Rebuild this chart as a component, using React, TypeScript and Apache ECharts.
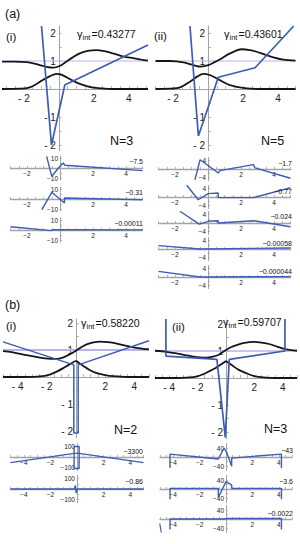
import React, { useEffect, useRef } from 'react';
import * as echarts from 'echarts';

type P = [number, number];

// ---------------- (a)(i) N=3 ----------------
const aiUpper: P[] = [[-3.25, 0.98], [-2.5, 0.98], [-1.85, 0.96], [-1.4, 0.91], [-1.09, 0.85], [-0.7, 0.79], [-0.33, 0.76], [0.05, 0.82], [0.44, 0.98], [0.8, 1.13], [1.2, 1.27], [1.65, 1.36], [2.15, 1.39], [2.6, 1.35], [3.1, 1.27], [3.7, 1.16], [4.25, 1.1], [4.7, 1.05], [5.1, 1.01]];
const aiLower: P[] = [[-3.25, 0], [-2.2, 0.01], [-1.66, 0.06], [-1.3, 0.17], [-1.0, 0.29], [-0.5, 0.46], [-0.13, 0.54], [0.1, 0.52], [0.44, 0.42], [0.8, 0.3], [1.2, 0.18], [1.6, 0.1], [1.96, 0.05], [2.5, 0.02], [3, 0], [5.1, 0]];
const aiBlue: P[] = [[-0.99, 2.25], [-0.42, -2.0], [0.34, 0.14], [5.1, 1.57]];
const aiSub1: P[] = [[-0.81, 11.6], [-0.5, -8.3], [-0.04, 1], [0.2, 5], [0.3, 2.7], [5, -2.6]];
const aiSub2: P[] = [[-1.1, -10.7], [-0.5, 6.7], [0.27, -4], [0.27, 1], [5, -0.7]];
const aiSub3: P[] = [[-3, 3.3], [-0.55, -0.6], [-0.45, 0.2], [5, 0.1]];
const aiCoef = ['\u22127.5', '\u22120.31', '\u22120.00011'];

// ---------------- (a)(ii) N=5 ----------------
const aiiUpper: P[] = [[-3, 1.0], [-2.2, 1.0], [-1.79, 0.99], [-1.4, 0.95], [-1.03, 0.89], [-0.7, 0.83], [-0.4, 0.8], [0.02, 0.85], [0.35, 0.95], [0.69, 1.06], [1.26, 1.27], [1.92, 1.42], [2.4, 1.39], [2.78, 1.33], [3.25, 1.23], [3.73, 1.13], [4.3, 1.05], [5, 1.01]];
const aiiLower: P[] = [[-3, 0], [-2.2, 0.01], [-1.6, 0.06], [-1.03, 0.26], [-0.6, 0.45], [-0.27, 0.54], [0.1, 0.5], [0.5, 0.38], [0.9, 0.24], [1.26, 0.14], [2.0, 0.04], [2.9, 0], [5, 0]];
const aiiBlue: P[] = [[-1.03, 2.25], [-0.55, -1.68], [0.59, 0.42], [2.69, 0.76], [4.9, 2.25]];
const aiiSub1: P[] = [[-0.79, -5.1], [-0.48, 4.4], [0.62, -1.9], [0.72, -0.8], [2.75, 2.1], [2.85, 0.5], [5, -4.4]];
const aiiSub2: P[] = [[-1.29, 5.6], [-0.59, -1.3], [0.02, 1.6], [0.62, 1.9], [0.62, -0.3], [2.75, -0.3], [5, 4.4]];
const aiiSub3: P[] = [[-1.7, 5.6], [-0.53, -0.5], [0.02, 0.8], [0.62, 1.1], [0.62, 0], [2.75, 1.1], [5, -1.8]];
const aiiSub4: P[] = [[-3, 1.6], [-0.48, 0], [5, 0.5]];
const aiiSub5: P[] = [[-3, 2.7], [-0.48, 0], [5, 0.2]];
const aiiCoef = ['\u22121.7', '\u22120.77', '\u22120.024', '\u22120.00058', '\u22120.000044'];

// ---------------- (b)(i) N=2 ----------------
const biUpper: P[] = [[-5, 0.96], [-4.4, 0.92], [-3.84, 0.86], [-3.1, 0.78], [-2.47, 0.72], [-1.9, 0.68], [-1.32, 0.67], [-0.9, 0.72], [-0.5, 0.82], [0, 0.97], [0.35, 1.1], [0.73, 1.21], [1.2, 1.28], [1.64, 1.31], [2.2, 1.29], [2.79, 1.24], [3.4, 1.16], [3.92, 1.1], [4.4, 1.06], [5, 1.02]];
const biLowerL: P[] = [[-5, 0], [-3.5, 0], [-2.47, 0.02], [-1.8, 0.09], [-1.32, 0.2], [-0.9, 0.32], [-0.53, 0.44], [-0.25, 0.53], [0, 0.6]];
const biLowerR: P[] = [[0, 0.6], [0.25, 0.5], [0.5, 0.41], [0.9, 0.27], [1.42, 0.14], [2, 0.07], [2.55, 0.03], [3.5, 0], [5, 0]];
const biBlue: P[] = [[-5, 1.3], [-0.15, 0.45], [-0.15, -2.07], [0.15, -2.07], [0.15, 0.45], [5, 1.34]];
const biSub1: P[] = [[-5, -54], [-0.22, 35], [-0.22, 100], [0.16, 100], [0.16, -110], [-0.22, -110], [-0.22, 35], [0.16, 35], [5, -54]];
const biSub2: P[] = [[-5, 0], [-0.2, 0], [-0.12, 35], [-0.06, -40], [0, 0], [5, 0]];
const biCoef = ['\u22123300', '\u22120.86'];

// ---------------- (b)(ii) N=3 ----------------
const biiUpper: P[] = [[-5, 1.01], [-4.2, 0.97], [-3.47, 0.91], [-2.9, 0.85], [-2.3, 0.79], [-1.8, 0.76], [-1.36, 0.75], [-0.9, 0.79], [-0.54, 0.85], [-0.2, 0.97], [0, 1.04], [0.35, 1.14], [0.75, 1.22], [1.3, 1.3], [1.92, 1.34], [2.5, 1.31], [3.1, 1.25], [3.6, 1.16], [4.15, 1.07], [4.6, 1.03], [5, 1.01]];
const biiLowerL: P[] = [[-5, 0], [-3.5, 0], [-2.3, 0.03], [-1.7, 0.12], [-1.25, 0.23], [-0.8, 0.35], [-0.54, 0.44], [-0.25, 0.54], [0, 0.63]];
const biiLowerR: P[] = [[0, 0.63], [0.25, 0.54], [0.51, 0.44], [0.9, 0.3], [1.46, 0.17], [2, 0.07], [2.63, 0.02], [3.5, 0], [5, 0]];
const biiBlue: P[] = [[-4.23, 2.3], [-4.23, 0.81], [-0.64, 0.69], [-0.05, -2.2], [0.23, 0.69], [4.15, 1.0], [4.15, 2.3]];
const biiSub1: P[] = [[-4.24, -49], [-4.24, 13], [-0.58, -9], [-0.15, 40], [0.05, 20], [0.43, -41], [0.43, -5], [4.2, 13], [4.2, -49]];
const biiSub2: P[] = [[-4.24, -46], [-4.24, 3], [-0.58, 3], [-0.58, -38], [0, 33], [0.43, 18], [0.43, 3], [4.2, 3], [4.2, -46]];
const biiSub3: P[] = [[-4.24, -47], [-4.24, 0], [-0.1, 0], [0.1, 2], [4.2, 2], [4.2, -47]];
const biiSub3Edge: P[] = [[-5.02, -20], [-4.9, -60]];
const biiCoef = ['\u221243', '\u22123.6', '\u22120.0022'];

// ---------------- texts & ticks ----------------
const gammaA = ['=0.43277', '=0.43601'];
const gammaB = ['=0.58220', '=0.59707'];
const nLabels = ['N=3', 'N=5', 'N=2', 'N=3'];
const mainXLabelsA = [-2, 2, 4];
const mainXLabelsB = [-4, -2, 2, 4];
const mainYLabels = [-2, -1, 1, 2];
const subXLabelsA = [-2, 2, 4];
const subXLabelsB = [-4, -2, 2, 4];
const ticksA = [-3, -2.5, -2, -1.5, -1, -0.5, 0.5, 1, 1.5, 2, 2.5, 3, 3.5, 4, 4.5, 5];
const ticksB = [-5, -4.5, -4, -3.5, -3, -2.5, -2, -1.5, -1, -0.5, 0.5, 1, 1.5, 2, 2.5, 3, 3.5, 4, 4.5, 5];
const mainYTicks = [-2, -1.5, -1, -0.5, 0.5, 1, 1.5, 2];

const FONT = '"Liberation Sans", Arial, Helvetica, sans-serif';
const BLUE = '#3d5cb3';
const BLACK = '#161616';
const LAV = '#b4b7e6';
const AXC = '#a3a3a3';

interface Panel {
  left: number; top: number; width: number; height: number;
  x: [number, number]; y: [number, number];
  xl: number[]; yl: number[]; xt: number[]; yt: number[];
  main: boolean;
}

const fmtMain = (v: number) => (v < 0 ? '- ' + Math.abs(v) : String(v));
const fmtSub = (v: number) => (v < 0 ? '\u2212' + Math.abs(v) : String(v));

export default function App() {
  const ref = useRef<HTMLDivElement>(null);
  useEffect(() => {
    if (!ref.current) return;
    const chart = echarts.init(ref.current, undefined, { renderer: 'svg' });

    const panels: Panel[] = [];
    panels.push({ left: 2, top: 26, width: 146, height: 124.6, x: [-3.25, 5.1], y: [-2.2, 2.25], xl: mainXLabelsA, yl: mainYLabels, xt: ticksA, yt: mainYTicks, main: true });
    panels.push({ left: 155.5, top: 26, width: 140, height: 124.6, x: [-3, 5], y: [-2.2, 2.25], xl: mainXLabelsA, yl: mainYLabels, xt: ticksA, yt: mainYTicks, main: true });
    [168, 199, 230].forEach((z) => panels.push({ left: 10.5, top: z - 12, width: 132, height: 24, x: [-3, 5], y: [-12, 12], xl: subXLabelsA, yl: [-10, 10], xt: ticksA, yt: [-10, -5, 5, 10], main: false }));
    [169, 197, 223, 249, 277].forEach((z) => panels.push({ left: 158.5, top: z - 11.55, width: 132, height: 23.1, x: [-3, 5], y: [-5.5, 5.5], xl: subXLabelsA, yl: [-4, 4], xt: ticksA, yt: [-4, -2, 2, 4], main: false }));
    panels.push({ left: 3, top: 318.95, width: 146, height: 118.8, x: [-5, 5], y: [-2.25, 2.15], xl: mainXLabelsB, yl: mainYLabels, xt: ticksB, yt: mainYTicks, main: true });
    panels.push({ left: 155, top: 319.95, width: 142, height: 118.8, x: [-5, 5], y: [-2.25, 2.15], xl: mainXLabelsB, yl: mainYLabels, xt: ticksB, yt: mainYTicks, main: true });
    [457, 489].forEach((z) => panels.push({ left: 10.5, top: z - 13.65, width: 133, height: 27.3, x: [-5, 5], y: [-130, 130], xl: subXLabelsB, yl: [-100, 100], xt: ticksB, yt: [-100, -50, 50, 100], main: false }));
    [457, 489, 519].forEach((z) => panels.push({ left: 160, top: z - 13.5, width: 132, height: 27, x: [-5, 5], y: [-60, 60], xl: subXLabelsB, yl: [-40, 40], xt: ticksB, yt: [-40, -20, 20, 40], main: false }));

    const grid = panels.map((p) => ({ left: p.left, top: p.top, width: p.width, height: p.height, containLabel: false, outerBoundsMode: 'none', show: false }));
    // put the axes through the origin explicitly with offsets
    const xAxis = panels.map((p, i) => {
      const zeroY = p.top + p.height * (p.y[1] / (p.y[1] - p.y[0]));
      return {
        type: 'value', gridIndex: i, min: p.x[0], max: p.x[1], position: 'bottom',
        offset: -(p.top + p.height - zeroY),
        axisLine: { show: true, onZero: false, lineStyle: { color: AXC, width: p.main ? 1 : 1.3 } },
        axisTick: { show: true, inside: true, length: p.main ? 3 : 2, customValues: p.xt, lineStyle: { color: AXC, width: 0.8 } },
        axisLabel: { show: true, customValues: p.xl, formatter: p.main ? fmtMain : fmtSub, fontSize: p.main ? 10 : 6.5, fontFamily: FONT, color: '#222', margin: p.main ? 4 : 2 },
        splitLine: { show: false },
      };
    });
    const yAxis = panels.map((p, i) => {
      const zeroX = p.left + p.width * (-p.x[0] / (p.x[1] - p.x[0]));
      return {
        type: 'value', gridIndex: i, min: p.y[0], max: p.y[1], position: 'left',
        offset: -(zeroX - p.left),
        axisLine: { show: true, onZero: false, lineStyle: { color: AXC, width: 1 } },
        axisTick: { show: true, inside: true, length: p.main ? 3 : 2, customValues: p.yt, lineStyle: { color: AXC, width: 0.8 } },
        axisLabel: { show: true, customValues: p.yl, formatter: p.main ? fmtMain : fmtSub, fontSize: p.main ? 10 : 6.5, fontFamily: FONT, color: '#222', margin: p.main ? 3 : 2 },
        splitLine: { show: false },
      };
    });

    const ln = (i: number, data: P[], color: string, width: number, smooth: number | boolean = false, z = 3) => ({
      type: 'line', xAxisIndex: i, yAxisIndex: i, data, showSymbol: false, symbol: 'none', smooth, clip: true,
      lineStyle: { color, width }, z, silent: true,
    });
    const hline = (i: number, w: number) => ln(i, [[panels[i].x[0], 1], [panels[i].x[1], 1]], LAV, w, false, 1);

    const series: any[] = [
      hline(0, 1), ln(0, aiUpper, BLACK, 1.8, 0.3, 2), ln(0, aiLower, BLACK, 1.8, 0.3, 2), ln(0, aiBlue, BLUE, 1.7),
      hline(1, 1), ln(1, aiiUpper, BLACK, 1.8, 0.3, 2), ln(1, aiiLower, BLACK, 1.8, 0.3, 2), ln(1, aiiBlue, BLUE, 1.7),
      ln(2, aiSub1, BLUE, 1.4), ln(3, aiSub2, BLUE, 1.4), ln(4, aiSub3, BLUE, 1.4),
      ln(5, aiiSub1, BLUE, 1.4), ln(6, aiiSub2, BLUE, 1.4), ln(7, aiiSub3, BLUE, 1.4), ln(8, aiiSub4, BLUE, 1.4), ln(9, aiiSub5, BLUE, 1.4),
      hline(10, 2), ln(10, biUpper, BLACK, 1.8, 0.3, 2), ln(10, biLowerL, BLACK, 1.8, 0.3, 2), ln(10, biLowerR, BLACK, 1.8, 0.3, 2), ln(10, biBlue, BLUE, 1.5),
      hline(11, 1.5), ln(11, biiUpper, BLACK, 1.8, 0.3, 2), ln(11, biiLowerL, BLACK, 1.8, 0.3, 2), ln(11, biiLowerR, BLACK, 1.8, 0.3, 2), ln(11, biiBlue, BLUE, 1.7),
      ln(12, biSub1, BLUE, 1.4), ln(13, biSub2, BLUE, 1.4),
      ln(14, biiSub1, BLUE, 1.4), ln(15, biiSub2, BLUE, 1.4), ln(16, biiSub3, BLUE, 1.4), ln(16, biiSub3Edge, BLUE, 1.2),
    ];

    const txt = (x: number, y: number, text: string, size: number, align = 'left') => ({
      type: 'text', x, y, z: 100, silent: true,
      style: { text, fontSize: size, fontFamily: FONT, fill: '#111', align, verticalAlign: 'middle' },
    });
    const gamma = (x: number, y: number, val: string) => [
      txt(x, y, '\u03b3', 11), txt(x + 5.5, y + 3, 'int', 7.5), txt(x + 14.5, y, val, 10.5),
    ];

    const graphic: any[] = [
      txt(5, 13.5, '(a)', 12.5), txt(6, 37, '(i)', 11.5), txt(154, 36, '(ii)', 11.5),
      ...gamma(77, 34, gammaA[0]), ...gamma(224, 34, gammaA[1]),
      txt(110, 141, nLabels[0], 12.5), txt(261, 141, nLabels[1], 12.5),
      txt(5, 305, '(b)', 12.5), txt(6, 326, '(i)', 11.5), txt(172, 327, '(ii)', 11.5),
      ...gamma(81, 323, gammaB[0]), ...gamma(223, 322, gammaB[1]),
      txt(114, 430, nLabels[2], 12.5), txt(264, 429, nLabels[3], 12.5),
    ];
    [161.7, 192.3, 223.3].forEach((y, k) => graphic.push(txt(143, y, aiCoef[k], 7, 'right')));
    [163.3, 191.7, 216.7, 243.3, 271].forEach((y, k) => graphic.push(txt(292, y, aiiCoef[k], 7, 'right')));
    [451, 481.7].forEach((y, k) => graphic.push(txt(143, y, biCoef[k], 7, 'right')));
    [450.7, 481.7, 513.3].forEach((y, k) => graphic.push(txt(293, y, biiCoef[k], 7, 'right')));

    chart.setOption({ animation: false, backgroundColor: '#ffffff', grid, xAxis, yAxis, series, graphic });
    return () => chart.dispose();
  }, []);

  return <div ref={ref} style={{ position: 'absolute', left: 0, top: 0, width: 300, height: 544 }} />;
}
